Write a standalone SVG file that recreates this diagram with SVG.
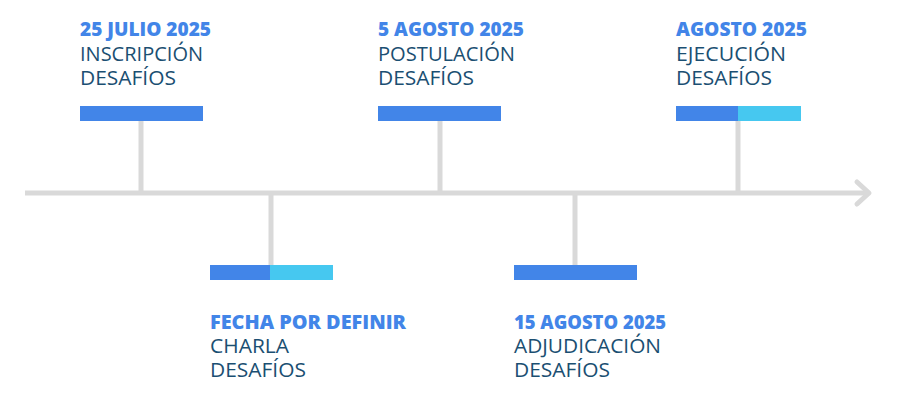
<svg xmlns="http://www.w3.org/2000/svg" width="902" height="417" viewBox="0 0 902 417">
<style>
.line{stroke:#d9d9d9;stroke-width:5;fill:none;stroke-linecap:butt}
.arrow{stroke:#d9d9d9;stroke-width:5;fill:none;stroke-linecap:round;stroke-linejoin:round}
.dark{fill:#4285e8}
.light{fill:#46c8f0}
.t{font-family:"Open Sans","Liberation Sans",sans-serif;font-size:20px;font-weight:800;fill:#4285e8}
.b{font-family:"Open Sans","Liberation Sans",sans-serif;font-size:20px;font-weight:400;fill:#1b4f72}
</style>
<rect width="902" height="417" fill="#ffffff"/>
<g id="connectors">
<line class="line" x1="25" y1="193" x2="867" y2="193"/>
<polyline class="arrow" points="857,182 869,193 857,204"/>
<line class="line" x1="141" y1="121" x2="141" y2="193"/>
<line class="line" x1="271" y1="193" x2="271" y2="265"/>
<line class="line" x1="440" y1="121" x2="440" y2="193"/>
<line class="line" x1="575" y1="193" x2="575" y2="265"/>
<line class="line" x1="738" y1="121" x2="738" y2="193"/>
</g>
<g id="node1">
<rect class="dark" x="80" y="106" width="123" height="15"/>
<text class="t" x="80" y="36" textLength="131" lengthAdjust="spacingAndGlyphs">25 JULIO 2025</text>
<text class="b" x="80" y="61" textLength="123" lengthAdjust="spacingAndGlyphs">INSCRIPCIÓN</text>
<text class="b" x="80" y="85" textLength="96" lengthAdjust="spacingAndGlyphs">DESAFÍOS</text>
</g>
<g id="node2">
<rect class="dark" x="210" y="265" width="60" height="15"/>
<rect class="light" x="270" y="265" width="63" height="15"/>
<text class="t" x="210" y="329" textLength="196" lengthAdjust="spacingAndGlyphs">FECHA POR DEFINIR</text>
<text class="b" x="210" y="353" textLength="79" lengthAdjust="spacingAndGlyphs">CHARLA</text>
<text class="b" x="210" y="377" textLength="96" lengthAdjust="spacingAndGlyphs">DESAFÍOS</text>
</g>
<g id="node3">
<rect class="dark" x="378" y="106" width="123" height="15"/>
<text class="t" x="378" y="36" textLength="146" lengthAdjust="spacingAndGlyphs">5 AGOSTO 2025</text>
<text class="b" x="378" y="61" textLength="137" lengthAdjust="spacingAndGlyphs">POSTULACIÓN</text>
<text class="b" x="378" y="85" textLength="96" lengthAdjust="spacingAndGlyphs">DESAFÍOS</text>
</g>
<g id="node4">
<rect class="dark" x="514" y="265" width="123" height="15"/>
<text class="t" x="514" y="329" textLength="152" lengthAdjust="spacingAndGlyphs">15 AGOSTO 2025</text>
<text class="b" x="514" y="353" textLength="147" lengthAdjust="spacingAndGlyphs">ADJUDICACIÓN</text>
<text class="b" x="514" y="377" textLength="96" lengthAdjust="spacingAndGlyphs">DESAFÍOS</text>
</g>
<g id="node5">
<rect class="dark" x="676" y="106" width="62" height="15"/>
<rect class="light" x="738" y="106" width="63" height="15"/>
<text class="t" x="676" y="36" textLength="131" lengthAdjust="spacingAndGlyphs">AGOSTO 2025</text>
<text class="b" x="676" y="61" textLength="110" lengthAdjust="spacingAndGlyphs">EJECUCIÓN</text>
<text class="b" x="676" y="85" textLength="96" lengthAdjust="spacingAndGlyphs">DESAFÍOS</text>
</g>
</svg>
